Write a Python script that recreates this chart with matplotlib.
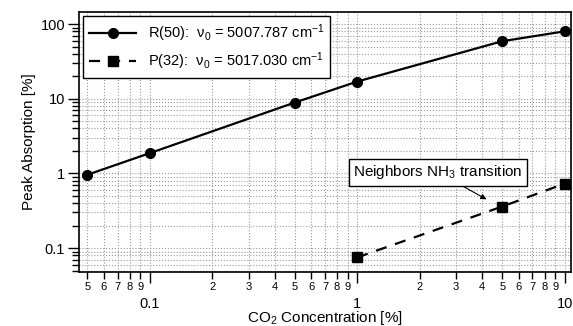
import matplotlib.pyplot as plt
import numpy as np
from matplotlib.ticker import LogLocator, FixedLocator, FixedFormatter, NullFormatter

plt.rcParams['font.family'] = ['Liberation Sans', 'DejaVu Sans']
plt.rcParams['mathtext.fontset'] = 'custom'
plt.rcParams['mathtext.rm'] = 'Liberation Sans'
plt.rcParams['mathtext.it'] = 'Liberation Sans'

# data
conc_r = [0.05, 0.1, 0.5, 1, 5, 10]
abs_r = [0.96, 1.87, 8.9, 17, 59, 80]
conc_p = [1, 5, 10]
abs_p = [0.075, 0.36, 0.73]

label_r = r'R(50):  $\nu_0$ = 5007.787 cm$^{-1}$'
label_p = r'P(32):  $\nu_0$ = 5017.030 cm$^{-1}$'
note = r'Neighbors NH$_3$ transition'

fig = plt.figure(figsize=(5.73, 3.26), dpi=100)
ax = fig.add_axes([0.138, 0.166, 0.858, 0.797])

ax.plot(conc_r, abs_r, 'k-', lw=1.6, marker='o', ms=7, label=label_r)
ax.plot(conc_p, abs_p, 'k', ls=(0, (5, 4)), lw=1.6, marker='s', ms=7.5,
        label=label_p)

ax.set_xscale('log')
ax.set_yscale('log')
ax.set_xlim(0.0456, 10.7)
ax.set_ylim(0.048, 145)

# x ticks: majors 0.1, 1, 10 below; minors labelled with their digit
ax.xaxis.set_major_locator(FixedLocator([0.1, 1, 10]))
ax.xaxis.set_major_formatter(FixedFormatter(['0.1', '1', '10']))
minors = []
minor_labels = []
for dec in [0.01, 0.1, 1]:
    for m in range(2, 10):
        v = m * dec
        if 0.0456 < v < 10.7:
            minors.append(v)
            minor_labels.append(str(m))
ax.xaxis.set_minor_locator(FixedLocator(minors))
ax.xaxis.set_minor_formatter(FixedFormatter(minor_labels))

ax.yaxis.set_major_locator(FixedLocator([0.1, 1, 10, 100]))
ax.yaxis.set_major_formatter(FixedFormatter(['0.1', '1', '10', '100']))
ax.yaxis.set_minor_locator(LogLocator(base=10, subs=np.arange(2, 10)))
ax.yaxis.set_minor_formatter(NullFormatter())

ax.tick_params(axis='x', which='major', direction='out', length=8, width=1,
               labelsize=10.5, pad=10)
ax.tick_params(axis='x', which='minor', direction='out', length=5, width=1,
               labelsize=8, pad=2)
ax.tick_params(axis='y', which='major', direction='out', length=8, width=1,
               labelsize=10.5, pad=2)
ax.tick_params(axis='y', which='minor', direction='out', length=5, width=1)

ax.grid(True, which='both', color='0.6', ls=':', lw=0.8)
for s in ax.spines.values():
    s.set_linewidth(1.2)

ax.set_xlabel(r'CO$_2$ Concentration [%]', fontsize=11, labelpad=-1)
ax.set_ylabel('Peak Absorption [%]', fontsize=11, labelpad=3)

leg = ax.legend(loc='upper left', fontsize=10.5, handlelength=3.2,
                borderaxespad=0.3, fancybox=False, framealpha=1,
                edgecolor='k', borderpad=0.4, labelspacing=0.45)
leg.get_frame().set_linewidth(1)

ax.annotate(note, xy=(4.2, 0.45), xytext=(2.45, 1.03),
            fontsize=11, ha='center', va='center',
            bbox=dict(boxstyle='square,pad=0.3', fc='white', ec='k', lw=1),
            arrowprops=dict(arrowstyle='-|>', color='k', lw=0.8,
                            shrinkA=0, shrinkB=0, mutation_scale=8))

fig.savefig('out.png', dpi=100)
